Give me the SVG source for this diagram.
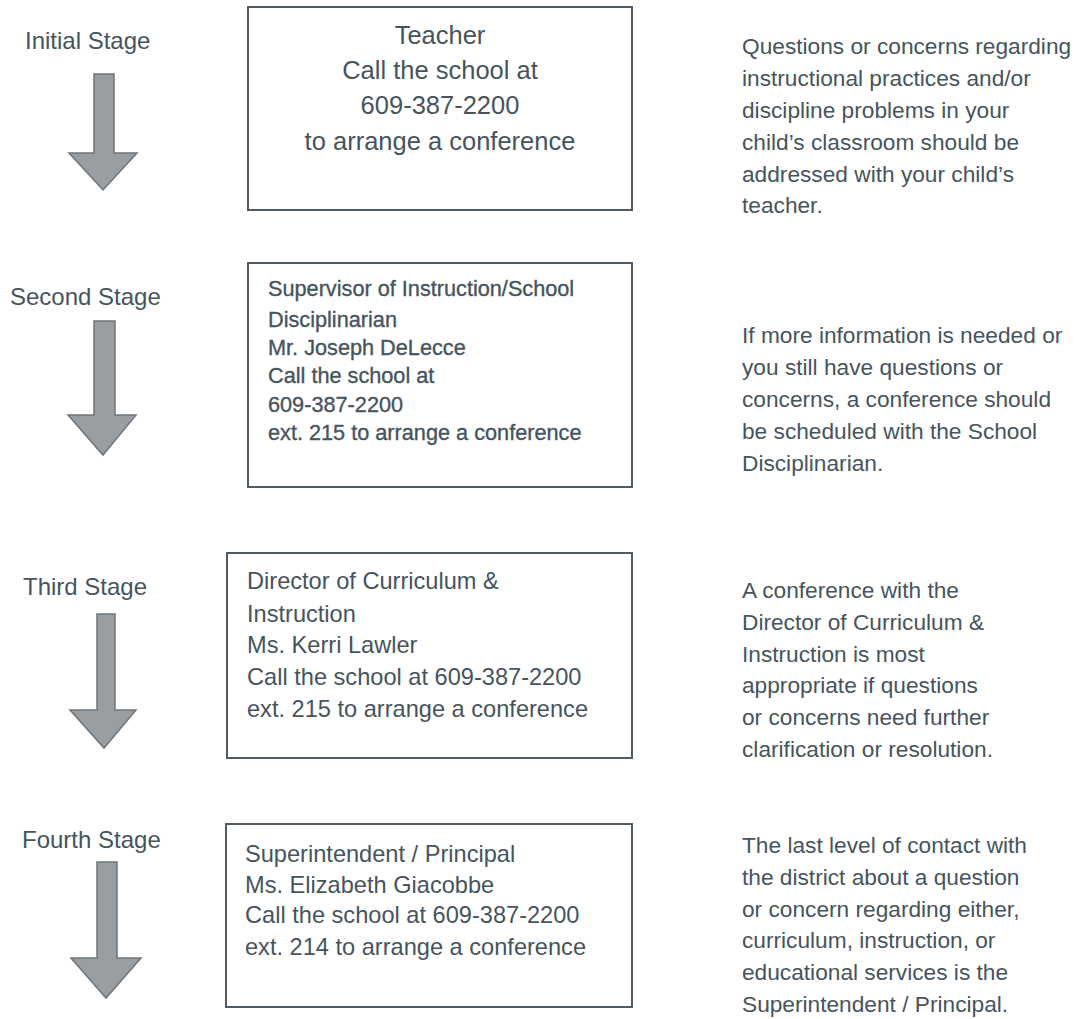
<svg xmlns="http://www.w3.org/2000/svg" width="1077" height="1019" viewBox="0 0 1077 1019">
<style>
.bg{fill:#ffffff}
.box{fill:#ffffff;stroke:#4f5a63;stroke-width:2}
.arrow{fill:#999ea2;stroke:#6f757a;stroke-width:1.5;stroke-linejoin:miter}
text{font-family:"Liberation Sans",Arial,sans-serif;fill:#47545e}
.stage{font-size:24px}
.b1{font-size:25.5px;text-anchor:middle}
.b2{font-size:21.7px;stroke:#47545e;stroke-width:0.35}
.b3{font-size:23.6px}
.note{font-size:22.7px}
</style>
<rect class="bg" x="0" y="0" width="1077" height="1019"/>

<g id="connectors">
<polygon class="arrow" points="94,74 114,74 114,153 137,153 103,190 69,153 94,153"/>
<polygon class="arrow" points="94,321 115,321 115,415 136,415 103,455 68,415 94,415"/>
<polygon class="arrow" points="97,614 115,614 115,710 136,710 104,748 70,710 97,710"/>
<polygon class="arrow" points="97,862 117,862 117,958 141,958 106,998 71,958 97,958"/>
</g>

<g id="stage1">
<text class="stage" x="25" y="49">Initial Stage</text>
<rect class="box" x="248" y="7" width="384" height="203"/>
<text class="b1" x="440" y="44">Teacher</text>
<text class="b1" x="440" y="79">Call the school at</text>
<text class="b1" x="440" y="114">609-387-2200</text>
<text class="b1" x="440" y="150">to arrange a conference</text>
<text class="note" x="742" y="54">Questions or concerns regarding</text>
<text class="note" x="742" y="86">instructional practices and/or</text>
<text class="note" x="742" y="118">discipline problems in your</text>
<text class="note" x="742" y="150">child’s classroom should be</text>
<text class="note" x="742" y="182">addressed with your child’s</text>
<text class="note" x="742" y="213">teacher.</text>
</g>

<g id="stage2">
<text class="stage" x="10" y="305">Second Stage</text>
<rect class="box" x="248" y="263" width="384" height="224"/>
<text class="b2" x="268" y="296">Supervisor of Instruction/School</text>
<text class="b2" x="268" y="327">Disciplinarian</text>
<text class="b2" x="268" y="355">Mr. Joseph DeLecce</text>
<text class="b2" x="268" y="383">Call the school at</text>
<text class="b2" x="268" y="412">609-387-2200</text>
<text class="b2" x="268" y="440">ext. 215 to arrange a conference</text>
<text class="note" x="742" y="343">If more information is needed or</text>
<text class="note" x="742" y="375">you still have questions or</text>
<text class="note" x="742" y="407">concerns, a conference should</text>
<text class="note" x="742" y="439">be scheduled with the School</text>
<text class="note" x="742" y="471">Disciplinarian.</text>
</g>

<g id="stage3">
<text class="stage" x="23" y="595">Third Stage</text>
<rect class="box" x="227" y="553" width="405" height="205"/>
<text class="b3" x="247" y="589">Director of Curriculum &amp;</text>
<text class="b3" x="247" y="622">Instruction</text>
<text class="b3" x="247" y="653">Ms. Kerri Lawler</text>
<text class="b3" x="247" y="685">Call the school at 609-387-2200</text>
<text class="b3" x="247" y="717">ext. 215 to arrange a conference</text>
<text class="note" x="742" y="598">A conference with the</text>
<text class="note" x="742" y="630">Director of Curriculum &amp;</text>
<text class="note" x="742" y="662">Instruction is most</text>
<text class="note" x="742" y="693">appropriate if questions</text>
<text class="note" x="742" y="725">or concerns need further</text>
<text class="note" x="742" y="757">clarification or resolution.</text>
</g>

<g id="stage4">
<text class="stage" x="22" y="848">Fourth Stage</text>
<rect class="box" x="226" y="824" width="406" height="183"/>
<text class="b3" x="245" y="862">Superintendent / Principal</text>
<text class="b3" x="245" y="893">Ms. Elizabeth Giacobbe</text>
<text class="b3" x="245" y="923">Call the school at 609-387-2200</text>
<text class="b3" x="245" y="955">ext. 214 to arrange a conference</text>
<text class="note" x="742" y="853">The last level of contact with</text>
<text class="note" x="742" y="885">the district about a question</text>
<text class="note" x="742" y="917">or concern regarding either,</text>
<text class="note" x="742" y="948">curriculum, instruction, or</text>
<text class="note" x="742" y="980">educational services is the</text>
<text class="note" x="742" y="1012">Superintendent / Principal.</text>
</g>
</svg>
